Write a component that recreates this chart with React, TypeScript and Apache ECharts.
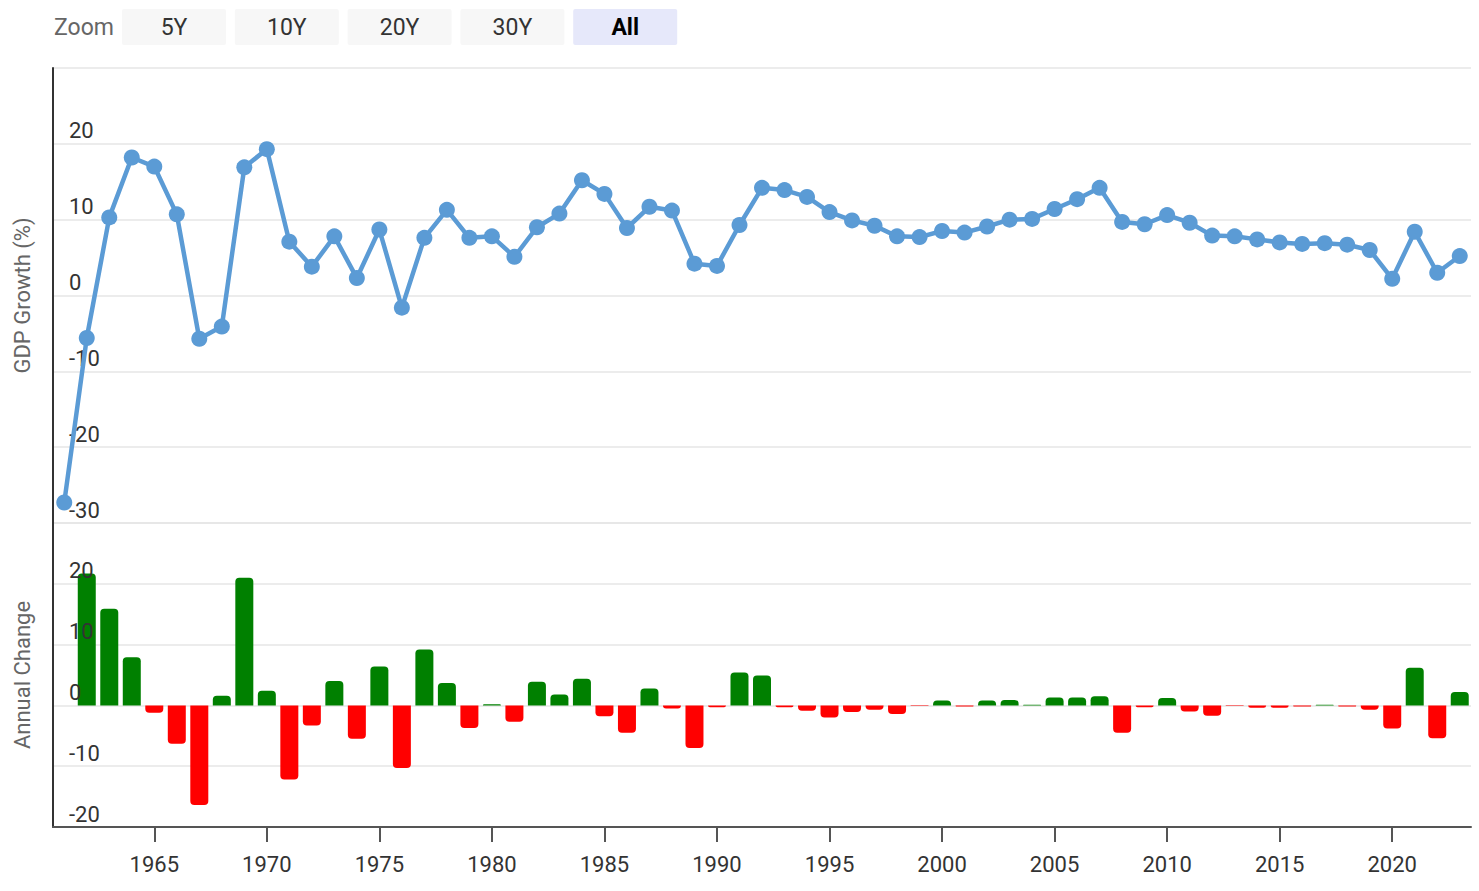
import React, { useEffect, useRef } from "react";
import * as echarts from "echarts";

const years: string[] = [
  "1961","1962","1963","1964","1965","1966","1967","1968","1969","1970",
  "1971","1972","1973","1974","1975","1976","1977","1978","1979","1980",
  "1981","1982","1983","1984","1985","1986","1987","1988","1989","1990",
  "1991","1992","1993","1994","1995","1996","1997","1998","1999","2000",
  "2001","2002","2003","2004","2005","2006","2007","2008","2009","2010",
  "2011","2012","2013","2014","2015","2016","2017","2018","2019","2020",
  "2021","2022","2023",
];

const gdpGrowth: number[] = [
  -27.3, -5.6, 10.3, 18.2, 17.0, 10.7, -5.7, -4.1, 16.9, 19.3,
  7.1, 3.8, 7.8, 2.3, 8.7, -1.6, 7.6, 11.3, 7.6, 7.8,
  5.1, 9.0, 10.8, 15.2, 13.4, 8.9, 11.7, 11.2, 4.2, 3.9,
  9.3, 14.2, 13.9, 13.0, 11.0, 9.9, 9.2, 7.8, 7.7, 8.5,
  8.3, 9.1, 10.0, 10.1, 11.4, 12.7, 14.2, 9.7, 9.4, 10.6,
  9.6, 7.9, 7.8, 7.4, 7.0, 6.8, 6.9, 6.7, 6.0, 2.2,
  8.4, 3.0, 5.2,
];

const annualChange: (number | null)[] = [
  null, 21.7, 15.9, 7.9, -1.2, -6.3, -16.4, 1.6, 21.0, 2.4,
  -12.2, -3.3, 4.0, -5.5, 6.4, -10.3, 9.2, 3.7, -3.7, 0.2,
  -2.7, 3.9, 1.8, 4.4, -1.8, -4.5, 2.8, -0.5, -7.0, -0.3,
  5.4, 4.9, -0.3, -0.9, -2.0, -1.1, -0.7, -1.4, -0.1, 0.8,
  -0.2, 0.8, 0.9, 0.1, 1.3, 1.3, 1.5, -4.5, -0.3, 1.2,
  -1.0, -1.7, -0.1, -0.4, -0.4, -0.2, 0.1, -0.2, -0.7, -3.8,
  6.2, -5.4, 2.2,
];

const zoomButtons: string[] = ["5Y", "10Y", "20Y", "30Y", "All"];
const selectedZoom = "All";

const FONT = "Roboto, 'Noto Sans', sans-serif";

export default function App() {
  const ref = useRef<HTMLDivElement>(null);

  useEffect(() => {
    if (!ref.current) return;
    const chart = echarts.init(ref.current, undefined, { renderer: "svg" });

    const barData = annualChange.map((v) => {
      if (v === null) return null;
      return {
        value: v,
        itemStyle: {
          color: v >= 0 ? "#008000" : "#ff0000",
          borderRadius: v >= 0 ? [4, 4, 0, 0] : [0, 0, 4, 4],
        },
      };
    });

    const buttonGraphics: any[] = [
      {
        type: "text",
        left: 54,
        top: 16,
        style: { text: "Zoom", fontSize: 23, fill: "#666", fontFamily: FONT },
      },
    ];
    zoomButtons.forEach((b, i) => {
      const x = 122 + i * 112.8;
      const sel = b === selectedZoom;
      buttonGraphics.push({
        type: "rect",
        shape: { x, y: 9, width: 104, height: 36, r: 2 },
        style: { fill: sel ? "#e6e8fa" : "#f7f7f7" },
      });
      buttonGraphics.push({
        type: "text",
        x: x + 52,
        y: 27,
        style: {
          text: b,
          fontSize: 23,
          fill: sel ? "#000" : "#333",
          fontWeight: sel ? "bold" : "normal",
          fontFamily: FONT,
          align: "center",
          verticalAlign: "middle",
        },
      });
    });

    const yLabel = {
      inside: true,
      margin: 16,
      verticalAlign: "bottom" as const,
      padding: [0, 0, 2, 0],
      fontSize: 22,
      color: "#333",
      fontFamily: FONT,
      showMaxLabel: false,
    };

    chart.setOption({
      animation: false,
      textStyle: { fontFamily: FONT },
      graphic: buttonGraphics,
      grid: [
        { left: 53, right: 8, top: 68, height: 455 },
        { left: 53, right: 8, top: 523, height: 304 },
      ],
      xAxis: [
        {
          type: "category",
          gridIndex: 0,
          data: years,
          boundaryGap: true,
          axisLine: { show: false },
          axisTick: { show: false },
          axisLabel: { show: false },
          splitLine: { show: false },
        },
        {
          type: "category",
          gridIndex: 1,
          data: years,
          boundaryGap: true,
          axisLine: { show: true, onZero: false, lineStyle: { color: "#555", width: 2 } },
          axisTick: {
            show: true,
            alignWithLabel: true,
            length: 15,
            interval: (i: number, v: string) => Number(v) % 5 === 0,
            lineStyle: { color: "#555", width: 2 },
          },
          axisLabel: {
            interval: (i: number, v: string) => Number(v) % 5 === 0,
            fontSize: 22,
            color: "#333",
            margin: 26,
            fontFamily: FONT,
          },
          splitLine: { show: false },
        },
      ],
      yAxis: [
        {
          type: "value",
          gridIndex: 0,
          min: -30,
          max: 30,
          interval: 10,
          name: "GDP Growth (%)",
          nameLocation: "middle",
          nameRotate: 90,
          nameGap: 20,
          nameTextStyle: { fontSize: 22, color: "#666", fontFamily: FONT },
          axisLine: { show: true, lineStyle: { color: "#333", width: 2 } },
          axisTick: { show: false },
          axisLabel: yLabel,
          splitLine: { show: true, lineStyle: { color: "#e6e6e6", width: 1.5 } },
        },
        {
          type: "value",
          gridIndex: 1,
          min: -20,
          max: 30,
          interval: 10,
          name: "Annual Change",
          nameLocation: "middle",
          nameRotate: 90,
          nameGap: 20,
          nameTextStyle: { fontSize: 22, color: "#666", fontFamily: FONT },
          axisLine: { show: true, lineStyle: { color: "#333", width: 2 } },
          axisTick: { show: false },
          axisLabel: { show: false },
          splitLine: { show: true, lineStyle: { color: "#e6e6e6", width: 1.5 } },
        },
        {
          type: "value",
          gridIndex: 1,
          position: "left",
          min: -20,
          max: 30,
          interval: 10,
          axisLine: { show: false },
          axisTick: { show: false },
          axisLabel: yLabel,
          splitLine: { show: false },
          z: 10,
        },
      ],
      series: [
        {
          type: "line",
          name: "GDP Growth (%)",
          xAxisIndex: 0,
          yAxisIndex: 0,
          data: gdpGrowth,
          symbol: "circle",
          symbolSize: 16,
          showSymbol: true,
          showAllSymbol: true,
          lineStyle: { color: "#5b9bd5", width: 4.5 },
          itemStyle: { color: "#5b9bd5" },
          z: 3,
        },
        {
          type: "bar",
          name: "Annual Change",
          xAxisIndex: 1,
          yAxisIndex: 1,
          data: barData,
          barWidth: 18,
          z: 2,
        },
      ],
    });

    return () => chart.dispose();
  }, []);

  return (
    <div
      ref={ref}
      style={{ position: "fixed", left: 0, top: 0, width: 1479, height: 891, background: "#fff" }}
    />
  );
}
